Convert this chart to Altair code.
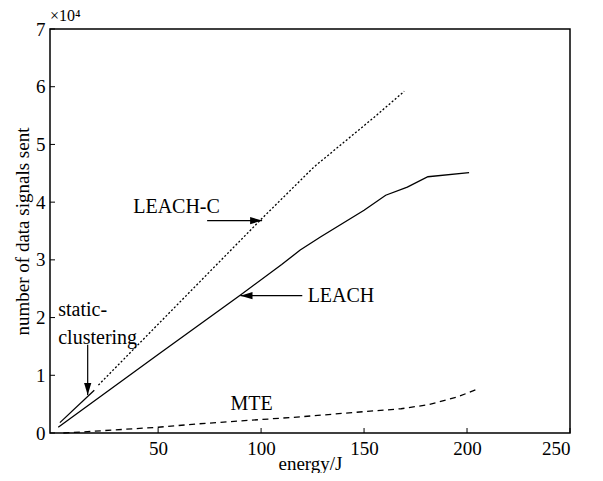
import altair as alt
import pandas as pd

# ---- data (energy in J, signals in units of 1e4) ----
leach_e = [1.5, 50, 90, 110, 119, 129, 150, 160.5, 171, 181, 201]
leach_v = [0.10, 1.36, 2.39, 2.92, 3.17, 3.40, 3.86, 4.12, 4.26, 4.44, 4.51]

leachc_e = [21, 100.5, 125.7, 140.3, 154.9, 169.5]
leachc_v = [0.83, 3.72, 4.61, 5.04, 5.47, 5.92]

static_e = [2.3, 19]
static_v = [0.18, 0.74]

mte_e = [4, 14, 50, 70, 119, 150, 168, 181, 195, 205]
mte_v = [0.0, 0.02, 0.10, 0.16, 0.28, 0.37, 0.42, 0.49, 0.62, 0.76]

x_ticks = [50, 100, 150, 200, 250]
y_ticks = [0, 1, 2, 3, 4, 5, 6, 7]

# annotation texts and their anchors (data units)
label_text = ["LEACH-C", "LEACH", "static-", "clustering", "MTE"]
label_e = [37.9, 122.6, 1.5, 1.5, 85.1]
label_v = [3.82, 2.265, 2.03, 1.54, 0.39]

# arrows: tail -> tip
arrow_e1 = [73.8, 120, 15.8]
arrow_v1 = [3.68, 2.38, 1.53]
arrow_e2 = [100.5, 90, 15.8]
arrow_v2 = [3.68, 2.38, 0.66]
arrow_dir = ["right", "left", "down"]

FONT = "Liberation Serif"
X_DOM = [-2.5, 250]
Y_DOM = [0, 7]

xs = alt.Scale(domain=X_DOM, nice=False, zero=False)
ys = alt.Scale(domain=Y_DOM, nice=False)

def series(e, v):
    return pd.DataFrame({"energy": e, "value": v})

xenc = alt.X("energy:Q", scale=xs,
             axis=alt.Axis(values=x_ticks, title="energy/J", tickSize=0, domain=False,
                           grid=False, labelPadding=6, titlePadding=-4, format="d"))
yenc = alt.Y("value:Q", scale=ys,
             axis=alt.Axis(values=y_ticks, title="number of data signals sent", tickSize=0,
                           domain=False, grid=False, labelPadding=5, titlePadding=3, format="d"))

def line(df, dash=None):
    kw = dict(color="black", strokeWidth=1.3)
    if dash:
        kw["strokeDash"] = dash
    return alt.Chart(df).mark_line(**kw).encode(x=xenc, y=yenc)

l_leach = line(series(leach_e, leach_v))
l_leachc = line(series(leachc_e, leachc_v), [2, 2])
l_static = line(series(static_e, static_v))
l_mte = line(series(mte_e, mte_v), [6, 4.5])

arr = pd.DataFrame({"e1": arrow_e1, "v1": arrow_v1, "e2": arrow_e2, "v2": arrow_v2, "dir": arrow_dir})
shafts = alt.Chart(arr).mark_rule(color="black", strokeWidth=1.2).encode(
    x=alt.X("e1:Q", scale=xs), x2="e2:Q", y=alt.Y("v1:Q", scale=ys), y2="v2:Q")

heads = []
paths = {"right": "M0,0 L-1,-0.3 L-1,0.3 Z",
         "left": "M0,0 L1,-0.3 L1,0.3 Z",
         "down": "M0,0 L-0.3,-1 L0.3,-1 Z"}
for d, p in paths.items():
    heads.append(alt.Chart(arr[arr["dir"] == d]).mark_point(
        shape=p, size=576, filled=True, color="black", opacity=1, strokeWidth=0).encode(
        x=alt.X("e2:Q", scale=xs), y=alt.Y("v2:Q", scale=ys)))

labels = alt.Chart(pd.DataFrame({"t": label_text, "e": label_e, "v": label_v})).mark_text(
    font=FONT, fontSize=20, align="left", baseline="alphabetic", color="black").encode(
    x=alt.X("e:Q", scale=xs), y=alt.Y("v:Q", scale=ys), text="t:N")

# inward ticks
xt = alt.Chart(pd.DataFrame({"t": x_ticks})).mark_rule(color="black", strokeWidth=1).encode(
    x=alt.X("t:Q", scale=xs), y=alt.value(404), y2=alt.value(399))
yt = alt.Chart(pd.DataFrame({"t": y_ticks})).mark_rule(color="black", strokeWidth=1).encode(
    y=alt.Y("t:Q", scale=ys), x=alt.value(0), x2=alt.value(5))

mult = alt.Chart(pd.DataFrame({"t": ["×10⁴"]})).mark_text(
    font=FONT, fontSize=16, align="left", baseline="alphabetic", color="black").encode(
    x=alt.value(0), y=alt.value(-8), text="t:N")

chart = alt.layer(l_leach, l_leachc, l_static, l_mte, shafts, *heads, labels, xt, yt, mult).properties(
    width=520, height=404,
    autosize=alt.AutoSizeParams(type="none"),
    padding={"left": 42, "top": 21, "right": 25, "bottom": 40},
).configure(background="white").configure_view(stroke="black", strokeWidth=1.5).configure_axis(
    labelFont=FONT, titleFont=FONT, labelFontSize=19, titleFontSize=19,
    labelColor="black", titleColor="black", titleFontWeight="normal"
)

chart.save("out.html", embed_options={"renderer": "svg", "actions": False})
